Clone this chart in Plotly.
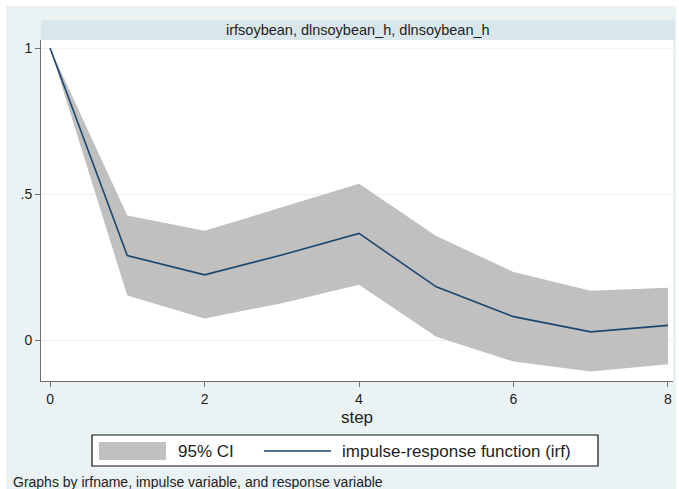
import plotly.graph_objects as go

steps = [0, 1, 2, 3, 4, 5, 6, 7, 8]
irf = [1.0, 0.289, 0.223, 0.291, 0.365, 0.182, 0.080, 0.028, 0.050]
ci_upper = [1.0, 0.426, 0.374, 0.454, 0.535, 0.356, 0.233, 0.169, 0.179]
ci_lower = [1.0, 0.152, 0.074, 0.126, 0.189, 0.011, -0.074, -0.108, -0.083]
x_ticks = [0, 2, 4, 6, 8]
y_ticks = [0, 0.5, 1]
y_ticktext = ["0", ".5", "1"]

title_text = "irfsoybean, dlnsoybean_h, dlnsoybean_h"
legend_ci = "95% CI"
legend_irf = "impulse-response function (irf)"
footer = "Graphs by irfname, impulse variable, and response variable"

OUTER = "#EAF2F3"
STRIP = "#D9E6EB"
CI_COL = "#C0C0C0"
LINE_COL = "#1A476F"
TXT = "#1E1E1E"
AX = "#707070"
FONT = "Liberation Sans, Arial, sans-serif"

W, H = 679, 489
L, R, T, B = 41, 6, 40, 108
pw, ph = W - L - R, H - T - B


def px(p):
    return (p - L) / pw


def py(q):
    return (H - B - q) / ph


fig = go.Figure()
fig.add_trace(go.Scatter(
    x=steps + steps[::-1], y=ci_upper + ci_lower[::-1],
    fill="toself", fillcolor=CI_COL, line=dict(width=0),
    mode="lines", name=legend_ci, showlegend=False, hoverinfo="skip"))
fig.add_trace(go.Scatter(
    x=steps, y=irf, mode="lines", line=dict(color=LINE_COL, width=1.6),
    name=legend_irf, showlegend=False))

shapes = [
    # white outer borders
    dict(type="rect", xref="paper", yref="paper", x0=px(-5), x1=px(W + 5), y0=py(6), y1=py(-5),
         fillcolor="white", line=dict(width=0), layer="above"),
    dict(type="rect", xref="paper", yref="paper", x0=px(-5), x1=px(6), y0=py(H + 5), y1=py(-5),
         fillcolor="white", line=dict(width=0), layer="above"),
    dict(type="rect", xref="paper", yref="paper", x0=px(676), x1=px(W + 5), y0=py(H + 5), y1=py(-5),
         fillcolor="white", line=dict(width=0), layer="above"),
    # title strip
    dict(type="rect", xref="paper", yref="paper", x0=0, x1=px(675), y0=1, y1=py(20),
         fillcolor=STRIP, line=dict(width=0), layer="above"),
    # legend box
    dict(type="rect", xref="paper", yref="paper", x0=px(92), x1=px(598), y0=py(466), y1=py(435),
         fillcolor="white", line=dict(color="#111111", width=1.2), layer="above"),
    dict(type="rect", xref="paper", yref="paper", x0=px(99), x1=px(166), y0=py(460), y1=py(442),
         fillcolor=CI_COL, line=dict(width=0), layer="above"),
    dict(type="line", xref="paper", yref="paper", x0=px(264), x1=px(331), y0=py(451), y1=py(451),
         line=dict(color=LINE_COL, width=1.6), layer="above"),
]

annotations = [
    dict(text=title_text, xref="paper", yref="paper", x=px(358), y=py(30),
         xanchor="center", yanchor="middle", showarrow=False,
         font=dict(family=FONT, size=14.5, color=TXT)),
    dict(text=legend_ci, xref="paper", yref="paper", x=px(176), y=py(451),
         xanchor="left", yanchor="middle", showarrow=False,
         font=dict(family=FONT, size=17, color=TXT)),
    dict(text=legend_irf, xref="paper", yref="paper", x=px(340), y=py(451),
         xanchor="left", yanchor="middle", showarrow=False,
         font=dict(family=FONT, size=17, color=TXT)),
    dict(text=footer, xref="paper", yref="paper", x=px(11), y=py(482),
         xanchor="left", yanchor="middle", showarrow=False,
         font=dict(family=FONT, size=14, color=TXT)),
]

fig.update_layout(
    width=W, height=H,
    margin=dict(l=L, r=R, t=T, b=B, pad=0),
    paper_bgcolor=OUTER, plot_bgcolor="white",
    showlegend=False,
    shapes=shapes, annotations=annotations,
    font=dict(family=FONT, color=TXT),
    xaxis=dict(
        range=[-0.117, 8.065], tickvals=x_ticks, ticktext=[str(v) for v in x_ticks],
        showgrid=False, zeroline=False, showline=True, linecolor=AX, linewidth=1,
        ticks="outside", ticklen=5, tickcolor=AX, tickwidth=1,
        tickfont=dict(family=FONT, size=14, color=TXT),
        title=dict(text="step", font=dict(family=FONT, size=17, color=TXT), standoff=5),
    ),
    yaxis=dict(
        range=[-0.1404, 1.0274], tickvals=y_ticks, ticktext=y_ticktext,
        showgrid=True, gridcolor=OUTER, gridwidth=1, zeroline=False,
        showline=True, linecolor=AX, linewidth=1,
        ticks="outside", ticklen=5, tickcolor=AX, tickwidth=1,
        tickfont=dict(family=FONT, size=14, color=TXT),
    ),
)

fig.write_html(
    "out.html",
    config={"displayModeBar": False},
    post_script="document.body.style.margin='0px';document.body.style.overflow='hidden';",
)
